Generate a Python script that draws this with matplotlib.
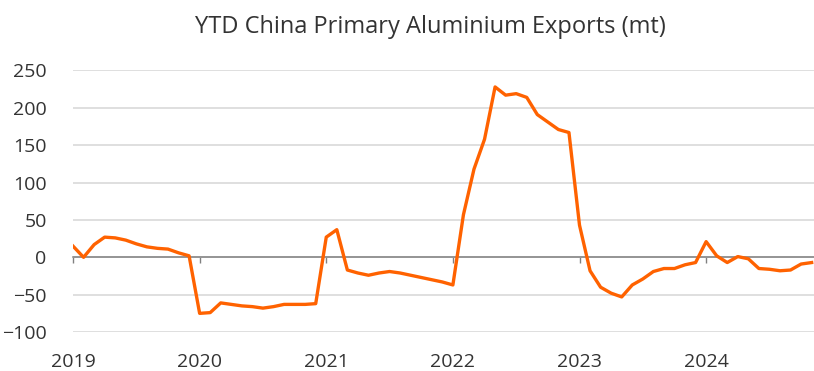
import numpy as np
import matplotlib.pyplot as plt

plt.rcParams['font.family'] = ['Open Sans', 'DejaVu Sans']

# Year-to-date primary aluminium net exports, monthly (mt)
exports_2019 = [15, 0, 17, 27, 26, 23, 18, 14, 12, 11, 6, 2]
exports_2020 = [-75, -74, -61, -63, -65, -66, -68, -66, -63, -63, -63, -62]
exports_2021 = [27, 37, -17, -21, -24, -21, -19, -21, -24, -27, -30, -33]
exports_2022 = [-37, 57, 118, 158, 228, 217, 219, 214, 191, 181, 171, 167]
exports_2023 = [43, -18, -40, -48, -53, -37, -29, -19, -15, -15, -10, -7]
exports_2024 = [21, 2, -7, 1, -2, -15, -16, -18, -17, -9, -7]

years = ['2019', '2020', '2021', '2022', '2023', '2024']

values = exports_2019 + exports_2020 + exports_2021 + exports_2022 + exports_2023 + exports_2024
months = np.arange(len(values))
year_pos = np.arange(len(years)) * 12

orange = '#FF6200'
text_col = '#333333'

fig = plt.figure(figsize=(8.14, 3.71), dpi=100)
ax = fig.add_axes([0.0897, 0.105, 0.91, 0.705])

ax.plot(months, values, color=orange, linewidth=2.4, solid_joinstyle='round', zorder=3)

ax.set_ylim(-100, 250)
ax.set_xlim(0, 70.2)
ax.set_yticks(np.arange(-100, 251, 50))
ax.grid(axis='y', color='#d9d9d9', linewidth=1.2)
ax.set_axisbelow(True)

for side in ['left', 'right', 'top']:
    ax.spines[side].set_visible(False)
ax.spines['bottom'].set_position(('data', 0))
ax.spines['bottom'].set_color('#808080')
ax.spines['bottom'].set_linewidth(1.1)
ax.spines['bottom'].set_zorder(2)

ax.set_xticks(year_pos)
ax.tick_params(axis='x', direction='out', length=4.5, width=1, color='#808080', labelbottom=False)
ax.tick_params(axis='y', length=0, pad=19, labelsize=14, labelcolor=text_col)

# year labels sit below the plot area, not on the zero line
sec = ax.secondary_xaxis(0)
sec.set_xticks(year_pos)
sec.set_xticklabels(years)
sec.tick_params(length=0, pad=15, labelsize=14, labelcolor=text_col)
sec.spines['bottom'].set_visible(False)

fig.text(0.529, 0.927, 'YTD China Primary Aluminium Exports (mt)',
         ha='center', va='center', fontsize=17, color=text_col)

plt.savefig('out.png', dpi=100)
